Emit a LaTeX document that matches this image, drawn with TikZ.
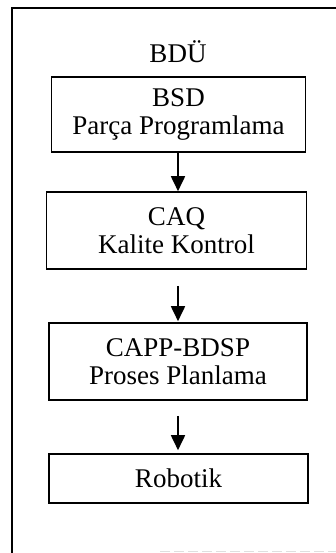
\documentclass[tikz,border=0pt]{standalone}
\usepackage{fontspec}
\setmainfont{Liberation Serif}
\usetikzlibrary{arrows.meta}

\begin{document}
\begin{tikzpicture}[x=1pt,y=-1pt,
  stage/.style={draw,line width=1.6pt,inner sep=0pt,align=center,
    font=\fontsize{27}{28}\selectfont},
  flow/.style={line width=1.8pt,-{Triangle[width=14pt,length=15pt]}},
  frame/.style={line width=2.2pt}]
  \useasboundingbox (0,0) rectangle (336,553);

  % open frame: left and top sides
  \draw[frame] (12,553) -- (12,8) -- (336,8);
  \draw[gray!25,line width=1pt,dash pattern=on 10pt off 4pt] (160,551) -- (336,551);

  % heading
  \node[font=\fontsize{27}{28}\selectfont,anchor=base] (title) at (178,63) {BDÜ};

  % process stages
  \node[stage,minimum width=254pt,minimum height=75pt] (bsd) at (178.5,114.5)
    {BSD\\Parça Programlama};
  \node[stage,minimum width=260pt,minimum height=77pt] (caq) at (176.5,230.5)
    {CAQ\\Kalite Kontrol};
  \node[stage,minimum width=258pt,minimum height=77pt] (capp) at (178,361.5)
    {CAPP-BDSP\\Proses Planlama};
  \node[stage,minimum width=259pt,minimum height=49pt] (rob) at (178.5,478.5)
    {Robotik};

  % connectors
  \draw[flow] ([xshift=-0.5pt]bsd.south) -- ([xshift=-0.5pt]bsd.south |- caq.north);
  \draw[flow,shorten <=16pt,shorten >=1pt] ([xshift=-0.5pt]bsd.south |- caq.south) -- ([xshift=-0.5pt]bsd.south |- capp.north);
  \draw[flow,shorten <=15pt,shorten >=3pt] (capp.south) -- (capp.south |- rob.north);
\end{tikzpicture}
\end{document}
